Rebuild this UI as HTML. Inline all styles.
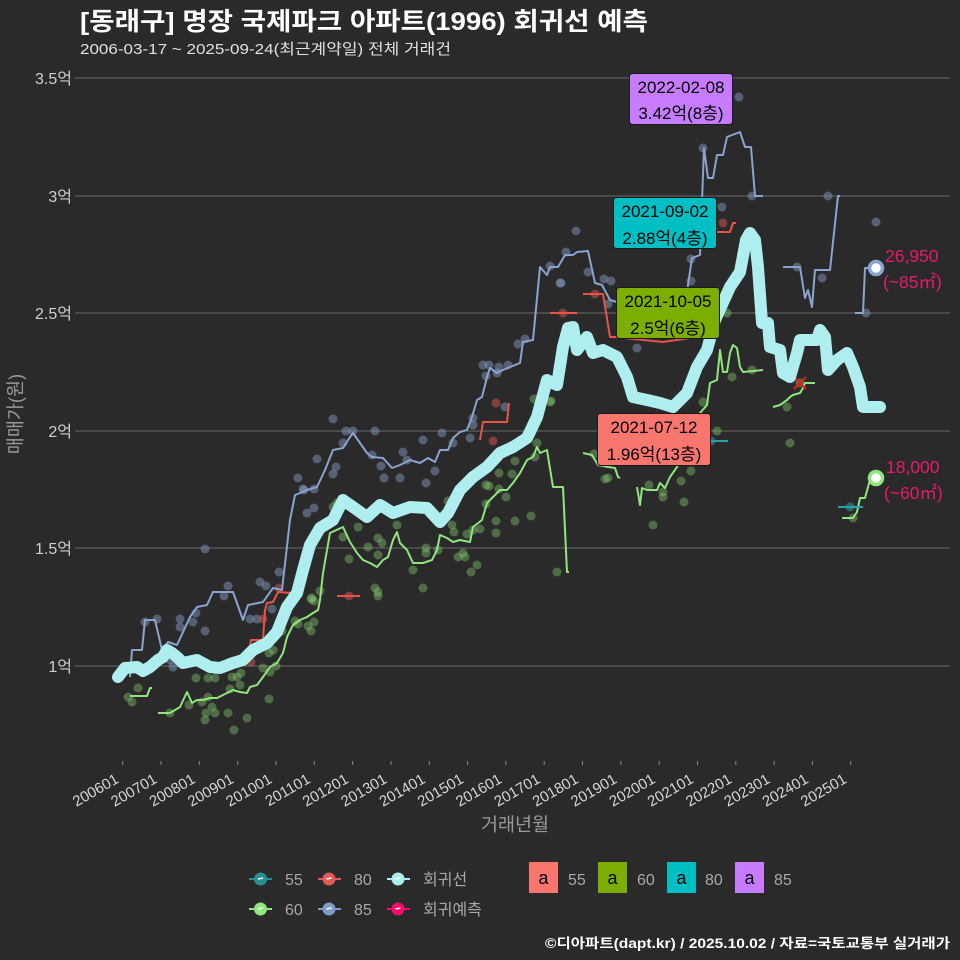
<!DOCTYPE html>
<html><head><meta charset="utf-8"><style>
html,body{margin:0;padding:0;background:#2a2a2b;}
svg{display:block;}
text{font-family:"Liberation Sans","Noto Sans CJK KR",sans-serif;}
</style></head><body>
<svg width="960" height="960" viewBox="0 0 960 960" xmlns="http://www.w3.org/2000/svg">
<rect width="960" height="960" fill="#2a2a2b"/>
<!-- title -->
<text x="80" y="30" font-size="25" font-weight="bold" fill="#ffffff" textLength="568" lengthAdjust="spacingAndGlyphs">[동래구] 명장 국제파크 아파트(1996) 회귀선 예측</text>
<text x="80" y="54" font-size="15" fill="#e0e0e0" textLength="371" lengthAdjust="spacingAndGlyphs">2006-03-17 ~ 2025-09-24(최근계약일) 전체 거래건</text>

<!-- grid -->
<g stroke="#6a6a6a" stroke-width="1">
<line x1="80" y1="78" x2="950" y2="78"/>
<line x1="80" y1="196" x2="950" y2="196"/>
<line x1="80" y1="313" x2="950" y2="313"/>
<line x1="80" y1="431" x2="950" y2="431"/>
<line x1="80" y1="548" x2="950" y2="548"/>
<line x1="80" y1="666" x2="950" y2="666"/>
<line x1="75" y1="78" x2="80" y2="78"/>
<line x1="75" y1="196" x2="80" y2="196"/>
<line x1="75" y1="313" x2="80" y2="313"/>
<line x1="75" y1="431" x2="80" y2="431"/>
<line x1="75" y1="548" x2="80" y2="548"/>
<line x1="75" y1="666" x2="80" y2="666"/>
</g>
<g font-size="16" fill="#d0d0d0" text-anchor="end">
<text x="72" y="84">3.5억</text>
<text x="72" y="202">3억</text>
<text x="72" y="319">2.5억</text>
<text x="72" y="437">2억</text>
<text x="72" y="554">1.5억</text>
<text x="72" y="672">1억</text>
</g>
<text transform="translate(22,414) rotate(-90)" font-size="18.5" fill="#9a9a9a" text-anchor="middle">매매가(원)</text>

<!-- x ticks -->
<g stroke="#8a8a8a" stroke-width="1">
<line x1="122.7" y1="761" x2="122.7" y2="765"/><line x1="161" y1="761" x2="161" y2="765"/><line x1="199.3" y1="761" x2="199.3" y2="765"/><line x1="237.7" y1="761" x2="237.7" y2="765"/><line x1="276" y1="761" x2="276" y2="765"/><line x1="314.3" y1="761" x2="314.3" y2="765"/><line x1="352.6" y1="761" x2="352.6" y2="765"/><line x1="391" y1="761" x2="391" y2="765"/><line x1="429.3" y1="761" x2="429.3" y2="765"/><line x1="467.6" y1="761" x2="467.6" y2="765"/><line x1="505.9" y1="761" x2="505.9" y2="765"/><line x1="544.2" y1="761" x2="544.2" y2="765"/><line x1="582.5" y1="761" x2="582.5" y2="765"/><line x1="620.9" y1="761" x2="620.9" y2="765"/><line x1="659.2" y1="761" x2="659.2" y2="765"/><line x1="697.5" y1="761" x2="697.5" y2="765"/><line x1="735.8" y1="761" x2="735.8" y2="765"/><line x1="774.1" y1="761" x2="774.1" y2="765"/><line x1="812.4" y1="761" x2="812.4" y2="765"/><line x1="850.7" y1="761" x2="850.7" y2="765"/>
</g>
<g font-size="15" fill="#d6d6d6" text-anchor="end">
<text transform="translate(119.7,782) rotate(-30)">200601</text>
<text transform="translate(158,782) rotate(-30)">200701</text>
<text transform="translate(196.3,782) rotate(-30)">200801</text>
<text transform="translate(234.7,782) rotate(-30)">200901</text>
<text transform="translate(273,782) rotate(-30)">201001</text>
<text transform="translate(311.3,782) rotate(-30)">201101</text>
<text transform="translate(349.6,782) rotate(-30)">201201</text>
<text transform="translate(388,782) rotate(-30)">201301</text>
<text transform="translate(426.3,782) rotate(-30)">201401</text>
<text transform="translate(464.6,782) rotate(-30)">201501</text>
<text transform="translate(502.9,782) rotate(-30)">201601</text>
<text transform="translate(541.2,782) rotate(-30)">201701</text>
<text transform="translate(579.5,782) rotate(-30)">201801</text>
<text transform="translate(617.9,782) rotate(-30)">201901</text>
<text transform="translate(656.2,782) rotate(-30)">202001</text>
<text transform="translate(694.5,782) rotate(-30)">202101</text>
<text transform="translate(732.8,782) rotate(-30)">202201</text>
<text transform="translate(771.1,782) rotate(-30)">202301</text>
<text transform="translate(809.4,782) rotate(-30)">202401</text>
<text transform="translate(847.7,782) rotate(-30)">202501</text>
</g>
<text x="515" y="831" font-size="18.5" fill="#9a9a9a" text-anchor="middle">거래년월</text>

<!-- scatter dots: 85 -->
<g fill="#8aa2cc" fill-opacity="0.45">
<circle cx="145" cy="622" r="4.5"/><circle cx="157" cy="619" r="4.5"/><circle cx="180" cy="619" r="4.5"/><circle cx="180" cy="627" r="4.5"/><circle cx="193" cy="622" r="4.5"/><circle cx="196" cy="613" r="4.5"/><circle cx="205" cy="631" r="4.5"/><circle cx="205" cy="549" r="4.5"/><circle cx="228" cy="586" r="4.5"/><circle cx="224" cy="596" r="4.5"/><circle cx="170" cy="660" r="4.5"/><circle cx="173" cy="667" r="4.5"/><circle cx="260" cy="582" r="4.5"/><circle cx="266" cy="586" r="4.5"/><circle cx="279" cy="572" r="4.5"/><circle cx="250" cy="619" r="4.5"/><circle cx="257" cy="619" r="4.5"/><circle cx="272" cy="609" r="4.5"/><circle cx="298" cy="478" r="4.5"/><circle cx="304" cy="490" r="4.5"/><circle cx="314" cy="489" r="4.5"/><circle cx="307" cy="513" r="4.5"/><circle cx="314" cy="508" r="4.5"/><circle cx="317" cy="459" r="4.5"/><circle cx="333" cy="474" r="4.5"/><circle cx="336" cy="467" r="4.5"/><circle cx="343" cy="443" r="4.5"/><circle cx="346" cy="431" r="4.5"/><circle cx="353" cy="431" r="4.5"/><circle cx="333" cy="419" r="4.5"/><circle cx="303" cy="489" r="4.5"/><circle cx="375" cy="431" r="4.5"/><circle cx="372" cy="455" r="4.5"/><circle cx="381" cy="466" r="4.5"/><circle cx="384" cy="478" r="4.5"/><circle cx="403" cy="452" r="4.5"/><circle cx="400" cy="478" r="4.5"/><circle cx="407" cy="460" r="4.5"/><circle cx="423" cy="440" r="4.5"/><circle cx="426" cy="483" r="4.5"/><circle cx="435" cy="471" r="4.5"/><circle cx="442" cy="433" r="4.5"/><circle cx="453" cy="443" r="4.5"/><circle cx="470" cy="438" r="4.5"/><circle cx="473" cy="418" r="4.5"/><circle cx="473" cy="425" r="4.5"/><circle cx="483" cy="365" r="4.5"/><circle cx="489" cy="365" r="4.5"/><circle cx="499" cy="367" r="4.5"/><circle cx="508" cy="365" r="4.5"/><circle cx="486" cy="376" r="4.5"/><circle cx="497" cy="373" r="4.5"/><circle cx="505" cy="407" r="4.5"/><circle cx="518" cy="344" r="4.5"/><circle cx="525" cy="339" r="4.5"/><circle cx="550" cy="266" r="4.5"/><circle cx="560" cy="283" r="4.5"/><circle cx="566" cy="252" r="4.5"/><circle cx="576" cy="231" r="4.5"/><circle cx="588" cy="272" r="4.5"/><circle cx="604" cy="279" r="4.5"/><circle cx="611" cy="281" r="4.5"/><circle cx="608" cy="304" r="4.5"/><circle cx="637" cy="348" r="4.5"/><circle cx="739" cy="97" r="4.5"/><circle cx="703" cy="148" r="4.5"/><circle cx="722" cy="207" r="4.5"/><circle cx="691" cy="259" r="4.5"/><circle cx="691" cy="281" r="4.5"/><circle cx="752" cy="196" r="4.5"/><circle cx="828" cy="196" r="4.5"/><circle cx="797" cy="267" r="4.5"/><circle cx="822" cy="278" r="4.5"/><circle cx="876" cy="222" r="4.5"/><circle cx="866" cy="313" r="4.5"/><circle cx="561" cy="283" r="4.5"/>
</g>
<!-- scatter dots: 60 -->
<g fill="#86d070" fill-opacity="0.4">
<circle cx="128" cy="697" r="4.5"/><circle cx="132" cy="702" r="4.5"/><circle cx="138" cy="688" r="4.5"/><circle cx="170" cy="713" r="4.5"/><circle cx="189" cy="705" r="4.5"/><circle cx="196" cy="678" r="4.5"/><circle cx="208" cy="678" r="4.5"/><circle cx="215" cy="678" r="4.5"/><circle cx="202" cy="702" r="4.5"/><circle cx="208" cy="697" r="4.5"/><circle cx="212" cy="707" r="4.5"/><circle cx="206" cy="713" r="4.5"/><circle cx="215" cy="713" r="4.5"/><circle cx="205" cy="720" r="4.5"/><circle cx="228" cy="713" r="4.5"/><circle cx="234" cy="730" r="4.5"/><circle cx="247" cy="718" r="4.5"/><circle cx="232" cy="677" r="4.5"/><circle cx="237" cy="677" r="4.5"/><circle cx="240" cy="685" r="4.5"/><circle cx="241" cy="673" r="4.5"/><circle cx="230" cy="689" r="4.5"/><circle cx="269" cy="699" r="4.5"/><circle cx="263" cy="668" r="4.5"/><circle cx="270" cy="672" r="4.5"/><circle cx="276" cy="666" r="4.5"/><circle cx="273" cy="650" r="4.5"/><circle cx="269" cy="653" r="4.5"/><circle cx="282" cy="631" r="4.5"/><circle cx="295" cy="621" r="4.5"/><circle cx="298" cy="624" r="4.5"/><circle cx="308" cy="626" r="4.5"/><circle cx="311" cy="631" r="4.5"/><circle cx="314" cy="622" r="4.5"/><circle cx="320" cy="591" r="4.5"/><circle cx="311" cy="599" r="4.5"/><circle cx="314" cy="601" r="4.5"/><circle cx="333" cy="507" r="4.5"/><circle cx="337" cy="503" r="4.5"/><circle cx="343" cy="537" r="4.5"/><circle cx="349" cy="559" r="4.5"/><circle cx="358" cy="527" r="4.5"/><circle cx="368" cy="547" r="4.5"/><circle cx="378" cy="538" r="4.5"/><circle cx="382" cy="543" r="4.5"/><circle cx="378" cy="555" r="4.5"/><circle cx="397" cy="525" r="4.5"/><circle cx="426" cy="548" r="4.5"/><circle cx="426" cy="553" r="4.5"/><circle cx="438" cy="550" r="4.5"/><circle cx="413" cy="570" r="4.5"/><circle cx="423" cy="588" r="4.5"/><circle cx="375" cy="588" r="4.5"/><circle cx="378" cy="592" r="4.5"/><circle cx="378" cy="596" r="4.5"/><circle cx="312" cy="598" r="4.5"/><circle cx="448" cy="501" r="4.5"/><circle cx="452" cy="525" r="4.5"/><circle cx="454" cy="532" r="4.5"/><circle cx="467" cy="534" r="4.5"/><circle cx="458" cy="557" r="4.5"/><circle cx="463" cy="553" r="4.5"/><circle cx="465" cy="557" r="4.5"/><circle cx="471" cy="572" r="4.5"/><circle cx="477" cy="565" r="4.5"/><circle cx="473" cy="530" r="4.5"/><circle cx="480" cy="529" r="4.5"/><circle cx="486" cy="504" r="4.5"/><circle cx="486" cy="485" r="4.5"/><circle cx="489" cy="486" r="4.5"/><circle cx="499" cy="473" r="4.5"/><circle cx="499" cy="489" r="4.5"/><circle cx="506" cy="497" r="4.5"/><circle cx="512" cy="474" r="4.5"/><circle cx="515" cy="461" r="4.5"/><circle cx="496" cy="521" r="4.5"/><circle cx="496" cy="533" r="4.5"/><circle cx="515" cy="521" r="4.5"/><circle cx="531" cy="516" r="4.5"/><circle cx="534" cy="399" r="4.5"/><circle cx="537" cy="443" r="4.5"/><circle cx="535" cy="457" r="4.5"/><circle cx="551" cy="401" r="4.5"/><circle cx="557" cy="572" r="4.5"/><circle cx="550" cy="402" r="4.5"/><circle cx="594" cy="454" r="4.5"/><circle cx="605" cy="479" r="4.5"/><circle cx="608" cy="478" r="4.5"/><circle cx="649" cy="485" r="4.5"/><circle cx="663" cy="492" r="4.5"/><circle cx="663" cy="497" r="4.5"/><circle cx="684" cy="502" r="4.5"/><circle cx="691" cy="471" r="4.5"/><circle cx="681" cy="481" r="4.5"/><circle cx="653" cy="525" r="4.5"/><circle cx="717" cy="431" r="4.5"/><circle cx="703" cy="402" r="4.5"/><circle cx="732" cy="377" r="4.5"/><circle cx="752" cy="370" r="4.5"/><circle cx="787" cy="407" r="4.5"/><circle cx="790" cy="443" r="4.5"/><circle cx="853" cy="518" r="4.5"/><circle cx="727" cy="313" r="4.5"/><circle cx="800" cy="383" r="4.5"/>
</g>
<!-- scatter dots: 80 -->
<g fill="#e85a55" fill-opacity="0.45">
<circle cx="251" cy="662" r="4.5"/><circle cx="279" cy="588" r="4.5"/><circle cx="263" cy="619" r="4.5"/><circle cx="349" cy="596" r="4.5"/><circle cx="496" cy="403" r="4.5"/><circle cx="493" cy="441" r="4.5"/><circle cx="563" cy="313" r="4.5"/><circle cx="595" cy="294" r="4.5"/><circle cx="723" cy="223" r="4.5"/>
</g>
<!-- scatter dots: 55 -->
<g fill="#2aa6ac" fill-opacity="0.5">
<circle cx="711" cy="441" r="4.5"/><circle cx="850" cy="507" r="4.5"/>
</g>

<!-- lines -->
<g fill="none" stroke-width="2" stroke-linejoin="round">
<!-- 85 -->
<g stroke="#8aa4cf">
<polyline points="130,677 132,650 142,650 145,620 155,620 162,650 168,642 177,645 190,617 197,607 207,605 213,592 233,592 243,620 248,605 263,602 273,588 282,590 290,520 295,495 300,493 307,490 317,487 325,470 333,450 343,448 350,437 353,433 360,443 367,453 372,457 383,458 392,468 400,465 410,460 420,463 428,458 435,462 440,450 448,450 453,438 460,432 467,430 472,417 477,400 482,397 487,377 490,368 497,373 503,370 510,367 520,363 523,342 533,340 540,267 547,275 550,267 558,267 565,255 573,255 577,252 588,251 595,283 602,285 610,300 617,302 620,322 686,322 688,285 692,258 700,255 704,148 708,178 713,178 717,155 723,155 727,137 740,132 745,147 751,147 755,196 763,196"/>
<polyline points="783,267 800,267 805,298 808,290 812,307 815,270 830,270 838,196 840,196"/>
<polyline points="855,313 863,313 865,268 876,268"/>
</g>
<!-- 80 -->
<g stroke="#e8534c">
<polyline points="238,662 248,662 251,640 263,640 265,610 267,603 273,602 278,592 292,593 297,595"/>
<polyline points="337,596 360,596"/>
<polyline points="480,440 483,422 507,422 509,403"/>
<polyline points="550,313 577,313"/>
<polyline points="583,294 603,294 610,337 615,337 663,342 690,338"/>
<polyline points="717,232 730,232 733,223 736,223"/>
</g>
<!-- 60 -->
<g stroke="#90e57e">
<polyline points="130,696 147,696 150,688 152,688"/>
<polyline points="158,713 170,713 175,710 180,707 187,692 192,703 197,700 203,700 210,698 217,698 227,693 233,690 240,692 247,693 250,687 257,685 263,677 270,667 277,663 283,653 287,637 293,625 300,620 307,617 313,613 318,610 320,600 323,573 330,533 343,527 350,542 357,553 363,560 370,563 377,567 383,560 388,557 393,540 397,532 400,543 407,550 413,563 423,563 432,560 437,550 440,535 447,538 453,542 460,540 470,542 473,527 482,520 487,503 493,497 500,490 507,490 513,483 520,473 527,460 533,457 537,447 540,453 547,450 553,487 563,487 567,572 569,572"/>
<polyline points="583,453 592,455 598,465 608,467 615,468 618,477 620,478"/>
<polyline points="637,487 640,505 642,488 647,490 657,490 660,483 665,488 670,477 677,467 680,460 688,447 700,413 707,405 710,383 717,380 720,350 723,372 727,372 730,353 733,345 737,348 740,367 743,372 763,370"/>
<polyline points="773,407 780,405 787,400 790,397 793,395 800,393 803,388 805,383 815,383"/>
<polyline points="842,518 853,518 857,512 860,498 865,498 868,487 870,480 876,478"/>
</g>
<!-- 55 -->
<g stroke="#2aa0a8">
<polyline points="693,441 728,441"/>
<polyline points="838,507 863,507"/>
</g>
</g>
<!-- red x -->
<g stroke="#e02020" stroke-width="2">
<line x1="794" y1="377" x2="806" y2="389"/><line x1="806" y1="377" x2="794" y2="389"/>
</g>

<!-- regression -->
<polyline fill="none" stroke="#aeeeee" stroke-width="12" stroke-linejoin="round" stroke-linecap="round" points="118,677 125,668 137,667 143,671 150,667 158,660 163,657 167,650 172,653 177,657 183,663 197,660 210,667 220,668 233,663 243,660 253,650 267,643 277,632 287,607 297,593 303,570 310,545 320,528 333,520 343,500 353,507 367,517 380,505 393,513 410,507 427,508 440,522 448,513 460,490 473,477 487,467 500,453 513,447 527,438 537,417 547,380 557,385 563,347 568,328 573,327 577,350 587,337 593,353 603,350 617,357 627,377 633,397 647,400 660,403 673,407 687,393 697,367 707,350 715,320 730,287 740,272 746,240 750,233 755,240 758,267 762,323 768,323 770,347 780,350 783,373 790,377 797,353 800,340 817,340 820,330 825,337 828,370 837,360 847,353 853,367 860,387 863,407 880,407"/>

<!-- endpoints -->
<circle cx="876" cy="268" r="6.5" fill="#ffffff" stroke="#8aa4cf" stroke-width="3.5"/>
<circle cx="876" cy="478" r="6.5" fill="#ffffff" stroke="#90e57e" stroke-width="3.5"/>
<g font-size="17.5" fill="#e8186e">
<text x="885" y="262">26,950</text>
<text x="883" y="288">(~85㎡)</text>
<text x="886" y="473">18,000</text>
<text x="884" y="499">(~60㎡)</text>
</g>

<!-- annotation labels -->
<g stroke="#1a1a1a" stroke-width="1">
<rect x="629.5" y="73.5" width="103" height="51" rx="3" fill="#c77cff"/>
<rect x="613.5" y="197.5" width="103" height="51" rx="3" fill="#00bfc4"/>
<rect x="616.5" y="287.5" width="103" height="51" rx="3" fill="#7cae00"/>
<rect x="597.5" y="413.5" width="113" height="52" rx="3" fill="#f8766d"/>
</g>
<g font-size="17" fill="#000000" text-anchor="middle">
<text x="681" y="93">2022-02-08</text>
<text x="681" y="119">3.42억(8층)</text>
<text x="665" y="217">2021-09-02</text>
<text x="665" y="244">2.88억(4층)</text>
<text x="668" y="307">2021-10-05</text>
<text x="668" y="334">2.5억(6층)</text>
<text x="654" y="433">2021-07-12</text>
<text x="654" y="460">1.96억(13층)</text>
</g>

<!-- legend 1 -->
<g>
<line x1="249" y1="879" x2="272" y2="879" stroke="#2a8f94" stroke-width="2"/>
<circle cx="260.5" cy="879" r="6.5" fill="#2a8f94"/>
<line x1="318" y1="879" x2="341" y2="879" stroke="#e05a55" stroke-width="2"/>
<circle cx="329" cy="879" r="6.5" fill="#e05a55"/>
<line x1="387" y1="879" x2="410" y2="879" stroke="#aeeeee" stroke-width="2"/>
<circle cx="398" cy="879" r="6.5" fill="#aeeeee"/>
<line x1="249" y1="909" x2="272" y2="909" stroke="#90e57e" stroke-width="2"/>
<circle cx="260.5" cy="909" r="6.5" fill="#90e57e"/>
<line x1="318" y1="909" x2="341" y2="909" stroke="#7f9cc8" stroke-width="2"/>
<circle cx="329" cy="909" r="6.5" fill="#7f9cc8"/>
<line x1="387" y1="909" x2="410" y2="909" stroke="#ff0a6a" stroke-width="2"/>
<circle cx="398" cy="909" r="6.5" fill="#ff0a6a"/>
<g stroke="#ffffff" stroke-width="1.5">
<line x1="258" y1="879" x2="263" y2="878"/><line x1="326.5" y1="879" x2="331.5" y2="878"/><line x1="395.5" y1="879" x2="400.5" y2="878"/>
<line x1="258" y1="909" x2="263" y2="908"/><line x1="326.5" y1="909" x2="331.5" y2="908"/><line x1="395.5" y1="909" x2="400.5" y2="908"/>
</g>
<g font-size="16" fill="#a8a8a8">
<text x="285" y="885">55</text>
<text x="354" y="885">80</text>
<text x="423" y="885">회귀선</text>
<text x="285" y="915">60</text>
<text x="354" y="915">85</text>
<text x="423" y="915">회귀예측</text>
</g>
</g>
<!-- legend 2 -->
<g>
<rect x="529" y="862" width="29" height="31" fill="#f8766d"/>
<rect x="598" y="862" width="29" height="31" fill="#7cae00"/>
<rect x="667" y="862" width="29" height="31" fill="#00bfc4"/>
<rect x="735" y="862" width="29" height="31" fill="#c77cff"/>
<g font-size="18" fill="#000000" text-anchor="middle">
<text x="543.5" y="884">a</text>
<text x="612.5" y="884">a</text>
<text x="681.5" y="884">a</text>
<text x="749.5" y="884">a</text>
</g>
<g font-size="16" fill="#a8a8a8">
<text x="568" y="885">55</text>
<text x="637" y="885">60</text>
<text x="705" y="885">80</text>
<text x="774" y="885">85</text>
</g>
</g>
<text x="950" y="948" font-size="13.5" font-weight="bold" fill="#ffffff" text-anchor="end" textLength="405" lengthAdjust="spacingAndGlyphs">©디아파트(dapt.kr) / 2025.10.02 / 자료=국토교통부 실거래가</text>
</svg>
</body></html>
